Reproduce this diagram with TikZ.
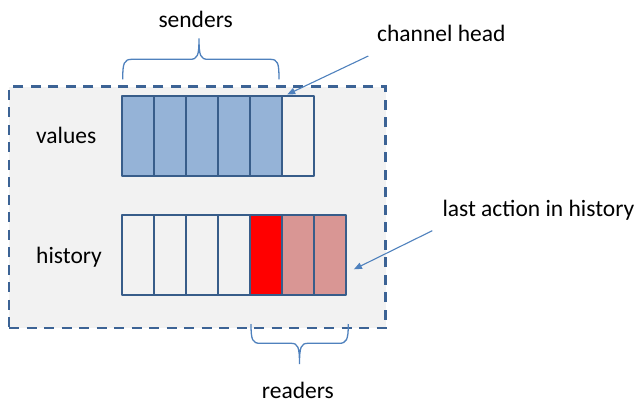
\documentclass[tikz,border=0pt]{standalone}
\usepackage{fontspec}
\setmainfont{Carlito}
\usetikzlibrary{arrows.meta}
\definecolor{bgbox}{HTML}{F2F2F2}
\definecolor{frameblue}{HTML}{3C6395}
\definecolor{cellline}{HTML}{385D8A}
\definecolor{cellblue}{HTML}{95B3D7}
\definecolor{cellpink}{HTML}{D99694}
\definecolor{accentblue}{HTML}{4F81BD}
\tikzset{
  container/.style={draw=frameblue, fill=bgbox, line width=2.5pt, dash pattern=on 10pt off 7.5pt, minimum width=376.5pt, minimum height=241.3pt, inner sep=0pt},
  cellbox/.style={draw=cellline, line width=2pt, line join=round, minimum width=32.1pt, minimum height=80pt, inner sep=0pt},
  lbl/.style={font=\fontsize{23.5}{28}\selectfont, inner sep=0pt, text=black},
  brace/.style={draw=accentblue, line width=1.3pt},
  pointer/.style={draw=accentblue, line width=1.1pt, -{Triangle[length=8pt,width=6.5pt]}}
}
\begin{document}
\begin{tikzpicture}[x=1pt,y=-1pt]
\useasboundingbox (0,0) rectangle (642,404);
\node[container] (box) at (197.25,207.35) {};
% values row
\foreach \i/\f in {1/cellblue,2/cellblue,3/cellblue,4/cellblue,5/cellblue,6/bgbox}{
  \node[cellbox, fill=\f] (v\i) at ({121.7+32.1*(\i-0.5)},135.5) {};
}
% history row
\foreach \i/\f in {1/bgbox,2/bgbox,3/bgbox,4/bgbox,5/red,6/cellpink,7/cellpink}{
  \node[cellbox, fill=\f] (h\i) at ({121.7+32.1*(\i-0.5)},255.3) {};
}
% labels
\node[lbl, anchor=base west] (values) at (36,143) {values};
\node[lbl, anchor=base west] (history) at (36,263.3) {history};
\node[lbl, anchor=base west] (senders) at (158.3,27.3) {senders};
\node[lbl, anchor=base west] (readers) at (261.7,398) {readers};
\node[lbl, anchor=base west] (chead) at (377,41.7) {channel head};
\node[lbl, anchor=base west] (lastact) at (442.3,216) {last action in history};
% braces
\path[brace] (122.7,79.3) .. controls (122.7,63) and (124,59.3) .. (132,59.3) -- (190,59.3)
  .. controls (197.5,59.3) and (199,56) .. (199,38.3)
  .. controls (199,56) and (200.5,59.3) .. (208,59.3) -- (270,59.3)
  .. controls (278,59.3) and (279,63) .. (279,79.3);
\path[brace] (251,324) .. controls (251,340) and (252.5,343.3) .. (260,343.3) -- (291,343.3)
  .. controls (298,343.3) and (299.5,347) .. (299.5,364)
  .. controls (299.5,347) and (301,343.3) .. (308,343.3) -- (339,343.3)
  .. controls (346.5,343.3) and (348.3,340) .. (348.3,324);
% pointers
\coordinate (cstart) at (368.3,56);
\coordinate (lstart) at (432.3,230.7);
\draw[pointer] (cstart) -- ([xshift=6pt]v6.north west);
\draw[pointer] (lstart) -- ([xshift=6.5pt,yshift=-14pt]h7.east);
\end{tikzpicture}
\end{document}
